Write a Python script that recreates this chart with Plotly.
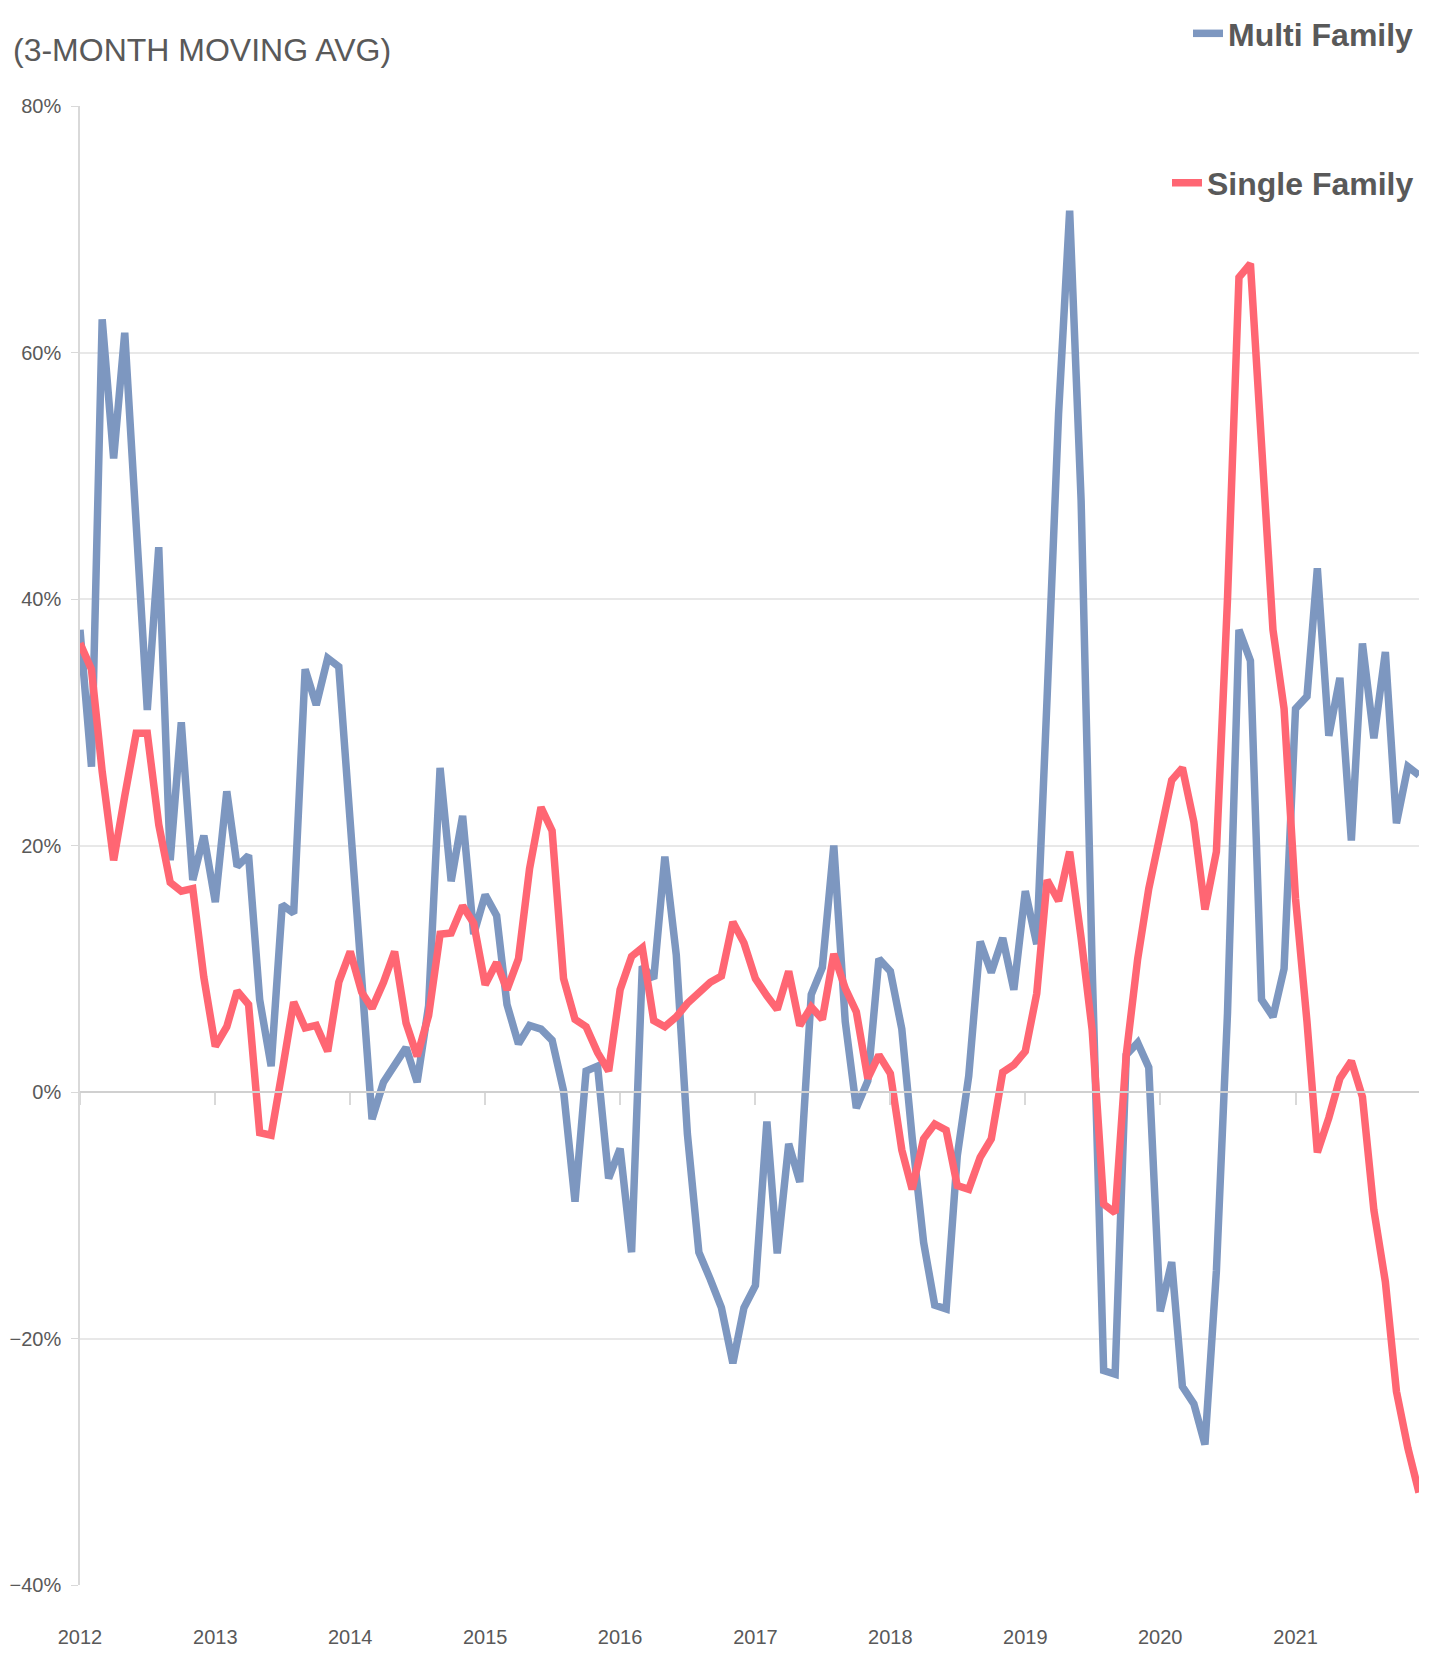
import pandas as pd
import plotly.graph_objects as go

# monthly points, Jan 2012 .. Dec 2021 (3-month moving average, % change)
months = pd.date_range("2012-01-01", periods=120, freq="MS")

multi_family = [
    37.5, 26.4, 62.7, 51.4, 61.6, 46.3, 31.0, 44.2, 18.8, 30.0, 17.2, 20.8,
    15.4, 24.4, 18.3, 19.2, 7.5, 2.1, 15.2, 14.5, 34.3, 31.4, 35.2, 34.5,
    22.0, 9.5, -2.2, 0.8, 2.2, 3.6, 0.8, 7.0, 26.3, 17.1, 22.4, 12.8,
    16.0, 14.3, 7.1, 3.9, 5.4, 5.1, 4.2, 0.1, -8.9, 1.7, 2.1, -7.0,
    -4.6, -13.0, 10.2, 9.2, 19.1, 11.1, -3.4, -13.0, -15.2, -17.5, -22.0, -17.5,
    -15.7, -2.4, -13.1, -4.2, -7.3, 7.9, 10.1, 20.0, 5.7, -1.3, 0.9, 10.8,
    9.8, 5.1, -3.7, -12.2, -17.3, -17.6, -5.2, 1.3, 12.2, 9.7, 12.5, 8.3,
    16.3, 12.0, 32.0, 55.0, 71.5, 48.0, 10.0, -22.6, -22.9, 3.0, 4.0, 2.0,
    -17.8, -13.8, -23.9, -25.3, -28.6, -14.5, 6.4, 37.5, 35.0, 7.5, 6.1, 10.0,
    31.1, 32.1, 42.5, 28.9, 33.6, 20.4, 36.4, 28.7, 35.7, 21.8, 26.4, 25.7,
]

single_family = [
    36.4, 34.3, 26.0, 18.8, 24.0, 29.1, 29.1, 21.7, 17.0, 16.3, 16.5, 9.3,
    3.7, 5.3, 8.2, 7.1, -3.3, -3.5, 1.7, 7.3, 5.2, 5.4, 3.3, 8.9,
    11.4, 8.1, 6.8, 8.9, 11.4, 5.6, 2.9, 6.2, 12.8, 12.9, 15.1, 13.7,
    8.7, 10.5, 8.3, 10.8, 18.1, 23.1, 21.2, 9.2, 5.9, 5.3, 3.2, 1.7,
    8.3, 11.0, 11.7, 5.8, 5.3, 6.1, 7.2, 8.1, 8.9, 9.4, 13.8, 12.1,
    9.2, 7.8, 6.7, 9.8, 5.4, 6.9, 5.9, 11.2, 8.4, 6.5, 1.1, 3.0,
    1.5, -4.7, -7.9, -3.8, -2.6, -3.1, -7.6, -7.9, -5.3, -3.8, 1.6, 2.2,
    3.3, 8.0, 17.2, 15.5, 19.5, 12.5, 5.0, -9.1, -9.8, 3.0, 10.8, 16.5,
    20.9, 25.3, 26.3, 21.9, 14.8, 19.5, 40.0, 66.1, 67.2, 51.4, 37.5, 31.1,
    15.7, 5.7, -4.9, -2.1, 1.1, 2.5, -0.4, -9.6, -15.4, -24.3, -28.9, -32.5,
]

year_ticks = [f"{y}-01-01" for y in range(2012, 2022)]
year_labels = [str(y) for y in range(2012, 2022)]

FONT = "Liberation Sans Narrow, Liberation Sans, Arial, sans-serif"
GREY = "#595959"
LIGHT = "#D9D9D9"
x_range = ["2012-01-01", "2021-12-01"]

# page body has an 8px margin, so the figure is sized to sit inside the window
W, H = 1429, 1642

fig = go.Figure()
fig.add_trace(go.Scatter(
    x=months, y=multi_family, name="Multi Family", mode="lines",
    line=dict(color="#7D97C0", width=7.5), showlegend=True,
    legend="legend", xaxis="x", yaxis="y",
))
fig.add_trace(go.Scatter(
    x=months, y=single_family, name="Single Family", mode="lines",
    line=dict(color="#FF6673", width=7.5), showlegend=True,
    legend="legend2", xaxis="x2", yaxis="y",
))

fig.update_layout(
    width=W, height=H,
    margin=dict(l=72, r=18, t=98, b=65, autoexpand=False),
    paper_bgcolor="white", plot_bgcolor="white",
    showlegend=True,
    font=dict(family=FONT, color=GREY),
    title=dict(
        text="(3-MONTH MOVING AVG)", font=dict(size=32, color=GREY, family=FONT),
        x=5 / W, xanchor="left", xref="container",
        y=1 - 42 / H, yanchor="middle", yref="container",
    ),
    # axis through 0% carrying the small year tick marks
    xaxis=dict(
        type="date", range=x_range, anchor="free", position=1 / 3,
        tickvals=year_ticks, showticklabels=False,
        ticks="outside", ticklen=12, tickwidth=1.5, tickcolor=LIGHT,
        showline=True, linecolor="#D0D0D0", linewidth=1.5,
        showgrid=False, zeroline=False,
    ),
    # year labels along the bottom
    xaxis2=dict(
        type="date", range=x_range, overlaying="x", anchor="y", side="bottom",
        tickvals=year_ticks, ticktext=year_labels, ticks="",
        ticklabelstandoff=38, tickfont=dict(size=20, color=GREY, family=FONT),
        showline=False, showgrid=False, zeroline=False,
    ),
    yaxis=dict(
        range=[-40, 80], tick0=0, dtick=20, ticksuffix="%",
        tickfont=dict(size=20, color=GREY, family=FONT),
        showgrid=True, gridcolor="#E8E8E8", gridwidth=1.5,
        showline=True, linecolor=LIGHT, linewidth=1.5,
        ticks="outside", ticklen=7, tickcolor=LIGHT, ticklabelstandoff=6,
        zeroline=False,
    ),
    legend=dict(
        x=1.0, xanchor="right", y=1.049, yanchor="middle",
        font=dict(size=32, color=GREY, family=FONT, weight="bold"),
        bgcolor="rgba(0,0,0,0)", itemwidth=30,
    ),
    legend2=dict(
        x=1.0, xanchor="right", y=0.948, yanchor="middle",
        font=dict(size=32, color=GREY, family=FONT, weight="bold"),
        bgcolor="rgba(0,0,0,0)", itemwidth=30,
    ),
)

fig.write_html("out.html")
